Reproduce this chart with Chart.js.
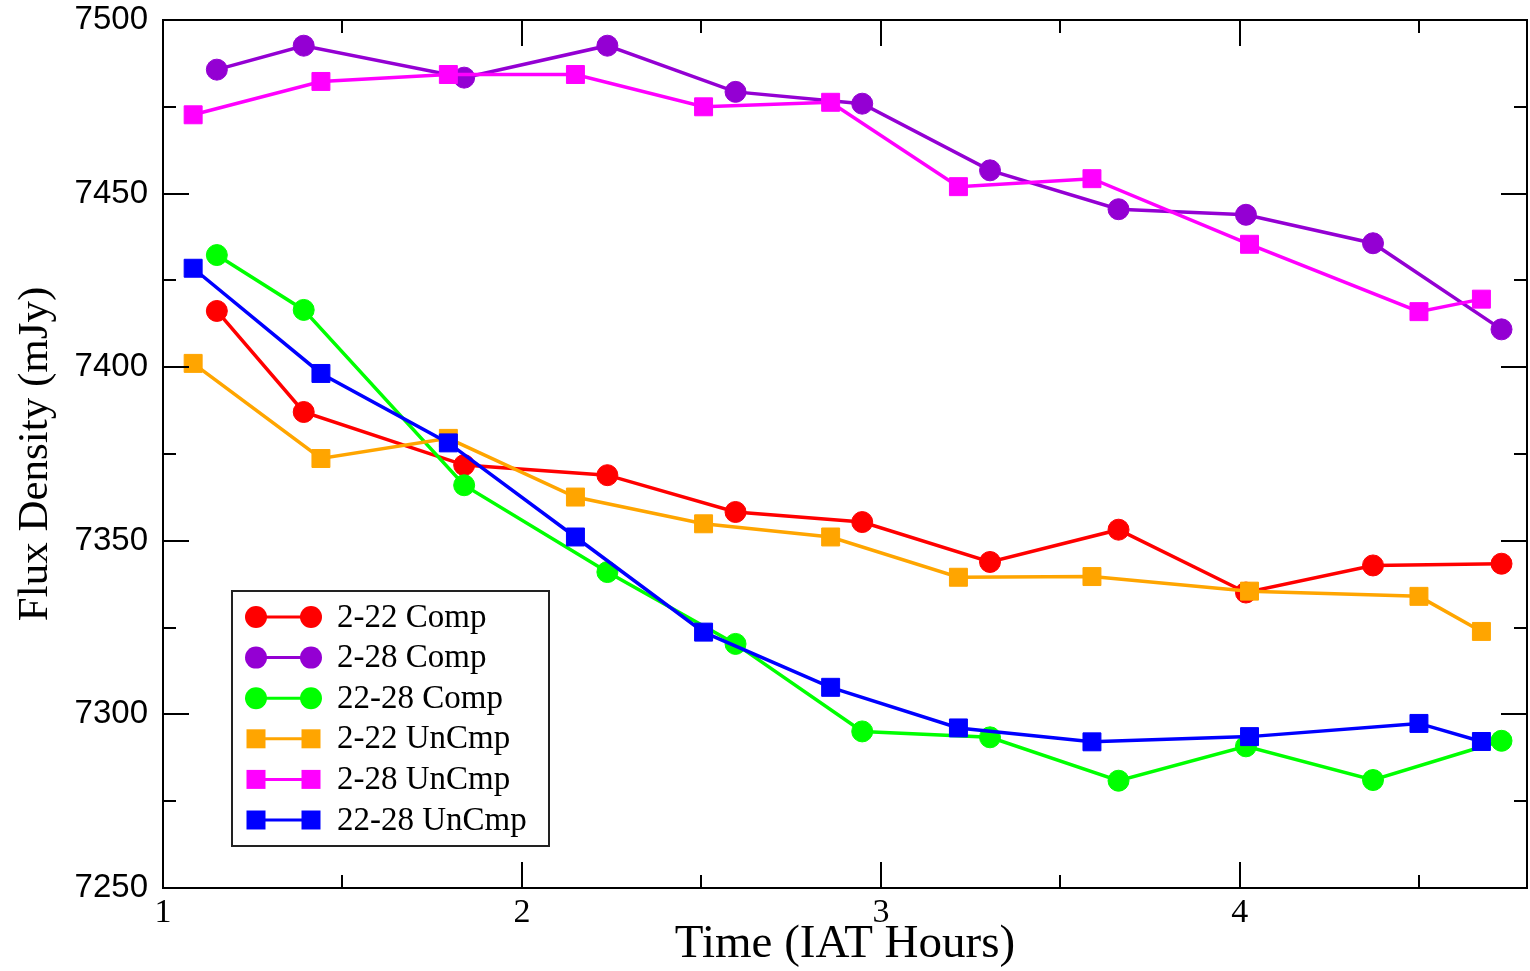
<!DOCTYPE html>
<html>
<head>
<meta charset="utf-8">
<title>Flux Density vs Time</title>
<script src="https://cdn.jsdelivr.net/npm/chart.js@4.4.1/dist/chart.umd.min.js"></script>
<style>
html, body { margin: 0; padding: 0; background: #fff; }
#wrap { width: 1530px; height: 971px; position: relative; }
</style>
</head>
<body>
<div id="wrap"><canvas id="fluxByTime"></canvas></div>
<script>

var compHours  = [1.150, 1.392, 1.839, 2.238, 2.595, 2.948, 3.304, 3.662, 4.017, 4.371, 4.729];
var uncmpHours = [1.084, 1.440, 1.795, 2.149, 2.506, 2.860, 3.216, 3.588, 4.027, 4.499, 4.673];

var comp_2_22   = [7416.2, 7387.1, 7371.8, 7368.9, 7358.3, 7355.4, 7343.9, 7353.2, 7335.1, 7342.9, 7343.4];
var comp_2_28   = [7485.7, 7492.6, 7483.4, 7492.6, 7479.3, 7475.9, 7456.7, 7445.5, 7443.9, 7435.7, 7410.9];
var comp_22_28  = [7432.3, 7416.5, 7366.0, 7341.0, 7320.3, 7295.1, 7293.4, 7280.9, 7290.8, 7281.1, 7292.4];
var uncmp_2_22  = [7401.1, 7373.7, 7379.5, 7362.6, 7354.9, 7351.1, 7339.5, 7339.7, 7335.5, 7334.0, 7323.9];
var uncmp_2_28  = [7472.7, 7482.3, 7484.3, 7484.3, 7475.0, 7476.3, 7452.0, 7454.3, 7435.4, 7416.0, 7419.6];
var uncmp_22_28 = [7428.5, 7398.2, 7378.2, 7351.1, 7323.7, 7307.8, 7296.1, 7292.1, 7293.6, 7297.4, 7292.2];

var seriesLabels = ['2-22 Comp', '2-28 Comp', '22-28 Comp', '2-22 UnCmp', '2-28 UnCmp', '22-28 UnCmp'];

var xMajorTicks = [1, 2, 3, 4];
var xMinorTicks = [1.5, 2.5, 3.5, 4.5];
var yMajorTicks = [7250, 7300, 7350, 7400, 7450, 7500];
var yMinorTicks = [7275, 7325, 7375, 7425, 7475];

var lineColors = {
    red: '#ff0000',
    violet: '#9400d3',
    green: '#00ff00',
    orange: '#ffa500',
    magenta: '#ff00ff',
    blue: '#0000ff'
};

function toPoints(xs, ys) {
    return xs.map(function (x, i) { return { x: x, y: ys[i] }; });
}

// later sets sit on top, as in the original plot
function makeSeries(idx, xs, ys, color, shape) {
    return {
        label: seriesLabels[idx],
        data: toPoints(xs, ys),
        order: seriesLabels.length - idx,
        borderColor: color,
        backgroundColor: color,
        borderWidth: 3.5,
        pointStyle: shape,
        pointRadius: shape == 'circle' ? 10.5 : 12.7,
        pointBackgroundColor: color,
        pointBorderColor: color,
        pointBorderWidth: 1,
        tension: 0,
        fill: false
    };
}

function setDataForFlux() {
    return {
        datasets: [
            makeSeries(0, compHours, comp_2_22, lineColors.red, 'circle'),
            makeSeries(1, compHours, comp_2_28, lineColors.violet, 'circle'),
            makeSeries(2, compHours, comp_22_28, lineColors.green, 'circle'),
            makeSeries(3, uncmpHours, uncmp_2_22, lineColors.orange, 'rect'),
            makeSeries(4, uncmpHours, uncmp_2_28, lineColors.magenta, 'rect'),
            makeSeries(5, uncmpHours, uncmp_22_28, lineColors.blue, 'rect')
        ]
    };
}

// box round the plot, inward ticks on every side, and the boxed legend inside
var frameAndLegend = {
    id: 'frameAndLegend',
    afterDatasetsDraw: function (chart) {
        var c = chart.ctx, a = chart.chartArea;
        var xs = chart.scales.x, ys = chart.scales.y;
        var bigTick = 26, smallTick = 13;
        c.save();
        c.strokeStyle = '#000';
        c.lineWidth = 2;
        c.strokeRect(a.left, a.top, a.right - a.left, a.bottom - a.top);

        c.beginPath();
        function xTick(v, len) {
            var px = Math.round(xs.getPixelForValue(v));
            c.moveTo(px, a.bottom); c.lineTo(px, a.bottom - len);
            c.moveTo(px, a.top); c.lineTo(px, a.top + len);
        }
        function yTick(v, len) {
            var py = Math.round(ys.getPixelForValue(v));
            c.moveTo(a.left, py); c.lineTo(a.left + len, py);
            c.moveTo(a.right, py); c.lineTo(a.right - len, py);
        }
        xMajorTicks.forEach(function (v) { xTick(v, bigTick); });
        xMinorTicks.forEach(function (v) { xTick(v, smallTick); });
        yMajorTicks.forEach(function (v) { yTick(v, bigTick); });
        yMinorTicks.forEach(function (v) { yTick(v, smallTick); });
        c.stroke();

        // legend
        var bx = a.left + 69, by = a.top + 571, bw = 317, bh = 255;
        c.fillStyle = '#fff';
        c.fillRect(bx, by, bw, bh);
        c.strokeStyle = '#222';
        c.lineWidth = 2;
        c.strokeRect(bx, by, bw, bh);

        c.font = '33px "Liberation Serif", "Times New Roman", serif';
        c.textBaseline = 'middle';
        c.textAlign = 'left';
        chart.data.datasets.forEach(function (ds, i) {
            var ry = by + 26 + i * 40.6;
            var x1 = bx + 24, x2 = bx + 79;
            c.strokeStyle = ds.borderColor;
            c.lineWidth = 3;
            c.beginPath();
            c.moveTo(x1, ry); c.lineTo(x2, ry);
            c.stroke();
            c.fillStyle = ds.borderColor;
            [x1, x2].forEach(function (mx) {
                c.beginPath();
                if (ds.pointStyle == 'circle') {
                    c.arc(mx, ry, 11, 0, Math.PI * 2);
                } else {
                    c.rect(mx - 9.5, ry - 9.5, 19, 19);
                }
                c.fill();
            });
            c.fillStyle = '#000';
            c.fillText(ds.label, bx + 105, ry + 1);
        });
        c.restore();
    }
};

var optionsForFlux = {
    responsive: true,
    maintainAspectRatio: false,
    animation: false,
    events: [],
    layout: { autoPadding: false, padding: { top: 20, right: 3, left: 0, bottom: 0 } },
    plugins: {
        legend: { display: false },
        title: { display: false },
        tooltip: { enabled: false }
    },
    scales: {
        x: {
            type: 'linear',
            min: 1,
            max: 4.8,
            grid: { display: false, drawTicks: false },
            border: { display: false },
            afterBuildTicks: function (scale) {
                scale.ticks = xMajorTicks.map(function (v) { return { value: v }; });
            },
            afterFit: function (scale) {
                scale.height = 83;
                scale.paddingLeft = 0;
                scale.paddingRight = 0;
            },
            ticks: {
                color: '#000',
                padding: 8,
                maxRotation: 0,
                callback: function (v) { return String(v); },
                font: { family: "'Liberation Serif', 'Times New Roman', serif", size: 34, lineHeight: 1 }
            },
            title: {
                display: true,
                text: 'Time (IAT Hours)',
                color: '#000',
                padding: { top: 0, bottom: 3 },
                font: { family: "'Liberation Serif', 'Times New Roman', serif", size: 47, lineHeight: 1 }
            }
        },
        y: {
            type: 'linear',
            min: 7250,
            max: 7500,
            grid: { display: false, drawTicks: false },
            border: { display: false },
            afterBuildTicks: function (scale) {
                scale.ticks = yMajorTicks.map(function (v) { return { value: v }; });
            },
            afterFit: function (scale) {
                scale.width = 163;
                scale.paddingTop = 0;
                scale.paddingBottom = 0;
            },
            ticks: {
                color: '#000',
                padding: 15,
                callback: function (v) { return String(v); },
                font: { family: "'Liberation Sans', Arial, sans-serif", size: 33 }
            },
            title: {
                display: true,
                text: 'Flux Density (mJy)',
                color: '#000',
                padding: { top: 14, bottom: 0 },
                font: { family: "'Liberation Serif', 'Times New Roman', serif", size: 43, lineHeight: 1 }
            }
        }
    }
};

var dataForFlux = setDataForFlux();

var ChartIDfluxByTime = document.getElementById('fluxByTime').getContext('2d');
var ChartforFluxByTime = new Chart(ChartIDfluxByTime, { type: 'line', data: dataForFlux, options: optionsForFlux, plugins: [frameAndLegend] });

</script>
</body>
</html>
